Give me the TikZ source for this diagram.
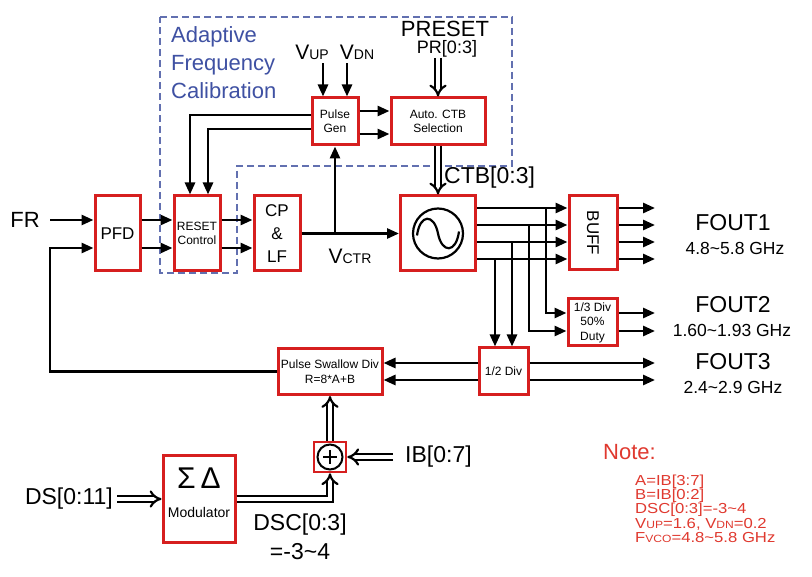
\documentclass[tikz,border=0pt]{standalone}
\usepackage{fontspec}
\setmainfont{Liberation Sans}
\newfontfamily\notefont[FakeStretch=1.15]{Liberation Sans}
\usetikzlibrary{arrows.meta,shadows,calc}
\definecolor{boxred}{HTML}{D61F1F}
\definecolor{afcblue}{HTML}{3F51A3}
\definecolor{dashblue}{HTML}{6270B0}
\definecolor{notered}{HTML}{E0392F}
\newcommand{\myfs}[2]{\fontsize{#1}{#2}\selectfont}
\begin{document}
\begin{tikzpicture}[x=1pt,y=-1pt,
  blk/.style={draw=boxred, line width=3pt, fill=white, inner sep=1pt, align=center,
    drop shadow={shadow xshift=1.3pt, shadow yshift=-1.3pt, fill=black, opacity=0.9}},
  wire/.style={line width=2.7pt, black},
  arr/.style={wire, -{Triangle[length=12pt,width=10pt]}},
  dbl/.style={line width=2.2pt, double, double distance=3.5pt, -{Implies[scale=1.35]}},
  lbl/.style={inner sep=0pt, text=black},
  notel/.style={inner sep=0pt, anchor=base west, text=notered, font=\notefont\myfs{14.5}{14.4}},
]
\useasboundingbox[fill=white] (0,0) rectangle (812,577);

% AFC region
\draw[dashblue, line width=1.4pt, dash pattern=on 7pt off 4pt]
  (160,17) -- (512,17) -- (512,166) -- (237,166) -- (237,273) -- (160,273) -- cycle;
\node[lbl, anchor=north west, align=left, text=afcblue, font=\myfs{22}{28}] (afc) at (171,26)
  {Adaptive\\Frequency\\Calibration};

% blocks
\node[blk, minimum width=45pt, minimum height=75pt, font=\myfs{17}{20}] (pfd) at (117.5,233.5) {PFD};
\node[blk, minimum width=46pt, minimum height=75pt, font=\myfs{12}{14.5}] (rst) at (197,233.5) {RESET\\Control};
\node[blk, minimum width=46pt, minimum height=75pt, font=\myfs{17}{23}] (cplf) at (277,233.5) {CP\\\&\\LF};
\node[blk, minimum width=75pt, minimum height=75pt] (vco) at (438,233.5) {};
\node[blk, minimum width=48pt, minimum height=74pt] (buff) at (593,233) {\rotatebox{-90}{\myfs{17}{20}BUFF}};
\node[blk, minimum width=49pt, minimum height=47pt, font=\myfs{12}{14.5}] (div3) at (592.5,322.5) {1/3 Div\\50\%\\Duty};
\node[blk, minimum width=49pt, minimum height=47pt, font=\myfs{12}{14}] (div2) at (503.5,371.5) {1/2 Div};
\node[blk, minimum width=104pt, minimum height=46pt, font=\myfs{12}{15}] (psd) at (330,371.5) {Pulse Swallow Div\\R=8*A+B};
\node[blk, minimum width=46pt, minimum height=47pt, font=\myfs{12}{14}] (pg) at (335,121.5) {Pulse\\Gen};
\node[blk, minimum width=94pt, minimum height=47pt, font=\myfs{12}{14}] (actb) at (438,121.5) {Auto. CTB\\Selection};
\node[blk, minimum width=72pt, minimum height=86pt, font=\myfs{14}{29}] (mod) at (199,499)
  {{\myfs{30}{32}Σ\,Δ}\\Modulator\rule[-13pt]{0pt}{1pt}};
\node[blk, line width=2.6pt, minimum width=32pt, minimum height=30pt] (sum) at (330,457) {};

% VCO symbol
\draw[line width=2.2pt] (vco.center) circle[radius=25pt];
\draw[line width=2.2pt] ($(vco.center)+(-21,2)$) .. controls ($(vco.center)+(-18,-20)$) and ($(vco.center)+(-4,-20)$) .. (vco.center)
  .. controls ($(vco.center)+(4,20)$) and ($(vco.center)+(18,20)$) .. ($(vco.center)+(21,-2)$);
% sum symbol
\draw[line width=2pt] (sum.center) circle[radius=12.5pt];
\draw[line width=2pt] ($(sum.center)+(-7,0)$) -- ($(sum.center)+(7,0)$);
\draw[line width=2pt] ($(sum.center)+(0,-7)$) -- ($(sum.center)+(0,7)$);

% labels
\node[lbl, font=\myfs{22}{24}] (frl) at (25,220) {FR};
\node[lbl, font=\myfs{21}{24}] (vup) at (312,52) {V{\myfs{14}{16}UP}};
\node[lbl, font=\myfs{21}{24}] (vdn) at (357,52) {V{\myfs{14}{16}DN}};
\node[lbl, font=\myfs{22}{24}] (preset) at (445,29) {PRESET};
\node[lbl, font=\myfs{18}{20}] (pr) at (447,49) {PR[0:3]};
\node[lbl, anchor=west, font=\myfs{23}{25}] (ctb) at (444,178) {CTB[0:3]};
\node[lbl, font=\myfs{21}{24}] (vctr) at (350,256) {V{\myfs{14}{16}CTR}};
\node[lbl, font=\myfs{23}{25}] (f1) at (733,223) {FOUT1};
\node[lbl, font=\myfs{17.5}{20}] (f1r) at (735,248) {4.8\textasciitilde 5.8 GHz};
\node[lbl, font=\myfs{23}{25}] (f2) at (733,305) {FOUT2};
\node[lbl, font=\myfs{17.5}{20}] (f2r) at (732,330) {1.60\textasciitilde 1.93 GHz};
\node[lbl, font=\myfs{23}{25}] (f3) at (733,362) {FOUT3};
\node[lbl, font=\myfs{17.5}{20}] (f3r) at (733,387) {2.4\textasciitilde 2.9 GHz};
\node[lbl, anchor=west, font=\myfs{23}{25}] (ib) at (405,457) {IB[0:7]};
\node[lbl, anchor=east, font=\myfs{23}{25}] (ds) at (113,499) {DS[0:11]};
\node[lbl, font=\myfs{23}{25}] (dsc) at (300,525) {DSC[0:3]};
\node[lbl, font=\myfs{23}{25}] (dscv) at (300,552) {=-3\textasciitilde 4};
\node[lbl, anchor=west, text=notered, font=\myfs{22}{24}] (note) at (603,452) {Note:};
\node[notel] (n1) at (635,485.5) {A=IB[3:7]};
\node[notel] (n2) at (635,500) {B=IB[0:2]};
\node[notel] (n3) at (635,513.5) {DSC[0:3]=-3\textasciitilde 4};
\node[notel] (n4) at (635,528) {V{\myfs{10.5}{12}UP}=1.6, V{\myfs{10.5}{12}DN}=0.2};
\node[notel] (n5) at (635,542.5) {F{\myfs{10.5}{12}VCO}=4.8\textasciitilde 5.8 GHz};

% connectors
\coordinate (frs) at (50,220);
\draw[arr] (frs) -- (frs -| pfd.west);
\draw[arr] ([yshift=13.5pt]pfd.east) -- ([yshift=13.5pt]rst.west);
\draw[arr] ([yshift=-14.5pt]pfd.east) -- ([yshift=-14.5pt]rst.west);
\draw[arr] ([yshift=13.5pt]rst.east) -- ([yshift=13.5pt]cplf.west);
\draw[arr] ([yshift=-14.5pt]rst.east) -- ([yshift=-14.5pt]cplf.west);
\coordinate (fb) at (50,300);
\draw[arr] (psd.west) -| (fb) |- ([yshift=-14.5pt]pfd.west);
\draw[arr] (cplf.east) -- (vco.west);
\draw[arr] (pg.south |- cplf.east) -- (pg.south);
\draw[arr] ([yshift=10.5pt]pg.east) -- ([yshift=10.5pt]actb.west);
\draw[arr] ([yshift=-12.5pt]pg.east) -- ([yshift=-12.5pt]actb.west);
\draw[arr] ([yshift=6.5pt]pg.west) -| ([xshift=-7pt]rst.north);
\draw[arr] ([yshift=-7.5pt]pg.west) -| ([xshift=11pt]rst.north);
\draw[arr] ([xshift=-12pt,yshift=33pt]pg.north) -- ([xshift=-12pt]pg.north);
\draw[arr] ([xshift=12pt,yshift=33pt]pg.north) -- ([xshift=12pt]pg.north);
\draw[dbl] ([yshift=38pt]actb.north) -- (actb.north);
\draw[dbl] (actb.south) -- (actb.south |- vco.north);

\coordinate (o1) at ([yshift=25.5pt]vco.east);
\coordinate (o2) at ([yshift=8.5pt]vco.east);
\coordinate (o3) at ([yshift=-8.5pt]vco.east);
\coordinate (o4) at ([yshift=-25.5pt]vco.east);
\coordinate (xe) at (655,0);
\foreach \n in {1,...,4} {
  \draw[arr] (o\n) -- (o\n -| buff.west);
  \draw[arr] (o\n -| buff.east) -- (o\n -| xe);
}
\coordinate (b1) at (546,0);
\coordinate (b2) at (529,0);
\coordinate (b3) at (512,0);
\coordinate (b4) at (495,0);
\draw[arr] (o1 -| b1) |- ([yshift=9.5pt]div3.west);
\draw[arr] (o2 -| b2) |- ([yshift=-8.5pt]div3.west);
\draw[arr] (o3 -| b3) -- (b3 |- div2.north);
\draw[arr] (o4 -| b4) -- (b4 |- div2.north);
\coordinate (d3a) at ([yshift=9.5pt]div3.east);
\coordinate (d3b) at ([yshift=-8.5pt]div3.east);
\draw[arr] (d3a) -- (d3a -| xe);
\draw[arr] (d3b) -- (d3b -| xe);
\coordinate (d2a) at ([yshift=8.5pt]div2.east);
\coordinate (d2b) at ([yshift=-8.5pt]div2.east);
\draw[arr] (d2a) -- (d2a -| xe);
\draw[arr] (d2b) -- (d2b -| xe);
\draw[arr] ([yshift=8.5pt]div2.west) -- ([yshift=8.5pt]psd.east);
\draw[arr] ([yshift=-8.5pt]div2.west) -- ([yshift=-8.5pt]psd.east);

\draw[dbl] (sum.north) -- (psd.south);
\draw[dbl] ([xshift=-12pt]ib.west) -- (sum.east);
\draw[dbl] ([xshift=4pt]ds.east) -- (mod.west);
\draw[dbl] (mod.east) -| (sum.south);
\end{tikzpicture}
\end{document}
